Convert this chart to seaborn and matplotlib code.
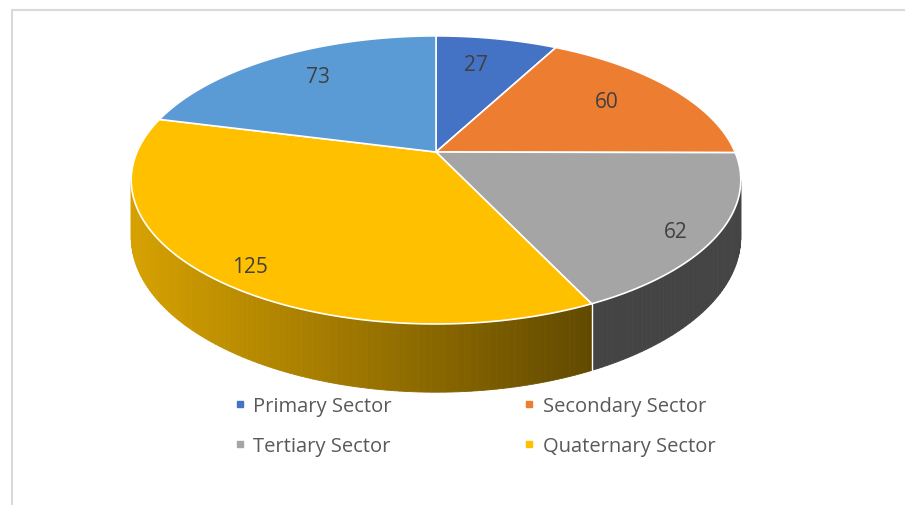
"""
3D-style pie chart of sector sizes, drawn as projected polygons on a pixel-space axes.
"""

import numpy as np
import matplotlib
matplotlib.use("Agg")
import matplotlib.pyplot as plt
from matplotlib.lines import Line2D
import seaborn as sns

# data
values = [27, 60, 62, 125, 73]
legend_names = ['Primary Sector', 'Secondary Sector', 'Tertiary Sector', 'Quaternary Sector']
top_colors = ['#4472C4', '#ED7D31', '#A5A5A5', '#FFC000', '#5B9BD5']

sns.set_style("white")
plt.rcParams['font.family'] = ['Open Sans', 'DejaVu Sans']

# projection of the tilted disc (pixel space)
CX, CY = 436.0, 153.0
A, B = 299.0, 138.6     # horizontal / depth scale
K = 0.194               # perspective factor
H = 55.0                # wall height
# shading of the side wall per slice (left factor, right factor)
wall_shade = [(0.45, 0.45), (0.45, 0.45), (0.41, 0.41), (0.84, 0.38), (0.5, 0.5)]
# label placement tweaks (radius fraction, angle nudge in degrees)
label_r = [0.76, 0.74, 0.88, 0.88, 0.77]
label_nudge = [-2.4, -2.9, 2.2, -1.8, 2.6]


def project(phi, r=1.0, drop=0.0):
    """phi in radians, clockwise from the back of the disc."""
    u = r * np.sin(phi)
    w = r * np.cos(phi)
    d = 1 + K * w
    return CX + A * u / d, CY - B * w / d + drop / d


def shade(color, f):
    rgb = np.array(matplotlib.colors.to_rgb(color))
    return tuple(rgb * f)


fig = plt.figure(figsize=(9.05, 5.06), dpi=100)
ax = fig.add_axes([0, 0, 1, 1])
ax.set_xlim(0, 905)
ax.set_ylim(506, 0)
ax.axis('off')

# chart area border (only top/left visible)
ax.plot([11.5, 905], [10.5, 10.5], color='#D9D9D9', lw=1.5)
ax.plot([11.5, 11.5], [10.5, 506], color='#D9D9D9', lw=1.5)

total = sum(values)
bounds = np.concatenate([[0], np.cumsum(values)]) / total * 2 * np.pi
vis_lo = np.pi - np.arccos(K)   # visible wall range
vis_hi = np.pi + np.arccos(K)

# side walls
for i, v in enumerate(values):
    lo, hi = max(bounds[i], vis_lo), min(bounds[i + 1], vis_hi)
    if hi <= lo:
        continue
    x_end, _ = project(lo)
    x_start, _ = project(hi)
    steps = np.linspace(lo, hi, max(int(np.degrees(hi - lo)), 2) + 1)
    fl, fr = wall_shade[i]
    for a0, a1 in zip(steps[:-1], steps[1:]):
        xs0, ys0 = project(a0)
        xs1, ys1 = project(a1)
        xb0, yb0 = project(a0, drop=H)
        xb1, yb1 = project(a1, drop=H)
        xm = (xs0 + xs1) / 2
        t = (xm - x_start) / max(x_end - x_start, 1)
        c = shade(top_colors[i], fl + (fr - fl) * t)
        ax.fill([xs0, xs1, xb1, xb0], [ys0, ys1, yb1, yb0], color=c, lw=0.6, ec=c)
    # white seam between walls
    xs, ys = project(lo)
    xb, yb = project(lo, drop=H)
    if lo > vis_lo:
        ax.plot([xs, xb], [ys, yb], color='white', lw=1)

# top face
for i, v in enumerate(values):
    arc = np.linspace(bounds[i], bounds[i + 1], 200)
    px, py = project(arc)
    ax.fill(np.concatenate([[CX], px]), np.concatenate([[CY], py]),
            fc=top_colors[i], ec='white', lw=1.2, joinstyle='round')

# data labels
for i, v in enumerate(values):
    mid = (bounds[i] + bounds[i + 1]) / 2 + np.radians(label_nudge[i])
    lx, ly = project(mid, r=label_r[i])
    ax.text(lx, ly + 2.5, str(v), ha='center', va='center', fontsize=15, color='#404040')

# legend (column-major fill, so reorder to read row by row)
order = [0, 2, 1, 3]
handles = [Line2D([], [], marker='s', linestyle='', color=top_colors[j], markersize=5)
           for j in order]
ax.legend(handles, [legend_names[j] for j in order], ncol=2, loc='center',
          bbox_to_anchor=(0.5243, 0.156), frameon=False, fontsize=14.5,
          labelcolor='#595959', handlelength=0.6, handletextpad=0.35,
          columnspacing=6.55, labelspacing=0.96)

plt.savefig('out.png', dpi=100)
